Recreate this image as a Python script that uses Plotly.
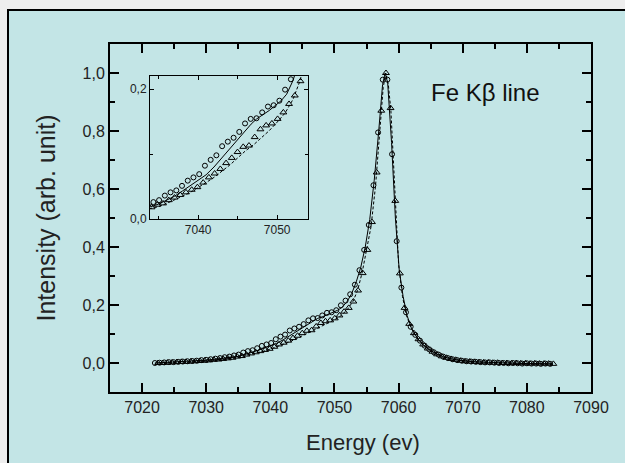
import plotly.graph_objects as go

# ---------------- data ----------------
circ_x = [7022.00, 7022.73, 7023.45, 7024.18, 7024.90, 7025.63, 7026.35, 7027.08, 7027.80, 7028.53,
          7029.25, 7029.98, 7030.70, 7031.43, 7032.15, 7032.88, 7033.60, 7034.33, 7035.05, 7035.78,
          7036.50, 7037.23, 7037.95, 7038.68, 7039.40, 7040.13, 7040.85, 7041.58, 7042.30, 7043.03,
          7043.75, 7044.48, 7045.20, 7045.93, 7046.65, 7047.38, 7048.10, 7048.83, 7049.55, 7050.28,
          7051.00, 7051.73, 7052.45, 7053.18, 7053.90, 7054.63, 7055.35, 7056.08, 7056.80, 7057.53,
          7058.25, 7058.98, 7059.70, 7060.43, 7061.15, 7061.88, 7062.60, 7063.33, 7064.05, 7064.78,
          7065.50, 7066.23, 7066.95, 7067.68, 7068.40, 7069.13, 7069.85, 7070.58, 7071.30, 7072.03,
          7072.75, 7073.48, 7074.20, 7074.93, 7075.65, 7076.38, 7077.10, 7077.83, 7078.55, 7079.28,
          7080.00, 7080.73, 7081.45, 7082.18, 7082.90, 7083.63]
circ_y = [0.000, 0.001, 0.002, 0.003, 0.003, 0.004, 0.005, 0.006, 0.007, 0.008,
          0.010, 0.011, 0.013, 0.015, 0.017, 0.020, 0.022, 0.026, 0.029, 0.036,
          0.041, 0.044, 0.051, 0.059, 0.064, 0.069, 0.082, 0.091, 0.098, 0.112,
          0.119, 0.125, 0.134, 0.147, 0.154, 0.155, 0.164, 0.173, 0.175, 0.182,
          0.199, 0.215, 0.237, 0.270, 0.320, 0.390, 0.476, 0.613, 0.795, 0.977,
          0.977, 0.720, 0.420, 0.260, 0.175, 0.125, 0.097, 0.077, 0.060, 0.047,
          0.037, 0.029, 0.022, 0.017, 0.013, 0.010, 0.008, 0.006, 0.005, 0.004,
          0.003, 0.002, 0.002, 0.001, 0.000, 0.000, -0.001, 0.000, -0.001, -0.002,
          -0.001, -0.002, -0.002, -0.003, -0.002, -0.003]

tri_x = [7022.50, 7023.23, 7023.95, 7024.68, 7025.40, 7026.13, 7026.85, 7027.58, 7028.30, 7029.03,
         7029.75, 7030.48, 7031.20, 7031.93, 7032.65, 7033.38, 7034.10, 7034.83, 7035.55, 7036.28,
         7037.00, 7037.73, 7038.45, 7039.18, 7039.90, 7040.63, 7041.35, 7042.08, 7042.80, 7043.53,
         7044.25, 7044.98, 7045.70, 7046.43, 7047.15, 7047.88, 7048.60, 7049.33, 7050.05, 7050.78,
         7051.50, 7052.23, 7052.95, 7053.68, 7054.40, 7055.13, 7055.85, 7056.58, 7057.30, 7058.03,
         7058.75, 7059.48, 7060.20, 7060.93, 7061.65, 7062.38, 7063.10, 7063.83, 7064.55, 7065.28,
         7066.00, 7066.73, 7067.45, 7068.18, 7068.90, 7069.63, 7070.35, 7071.08, 7071.80, 7072.53,
         7073.25, 7073.98, 7074.70, 7075.43, 7076.15, 7076.88, 7077.60, 7078.33, 7079.05, 7079.78,
         7080.50, 7081.23, 7081.95, 7082.68, 7083.40, 7084.13]
tri_y = [0.000, 0.000, 0.001, 0.002, 0.003, 0.004, 0.004, 0.005, 0.006, 0.007,
         0.008, 0.009, 0.011, 0.012, 0.014, 0.016, 0.018, 0.022, 0.024, 0.029,
         0.033, 0.037, 0.041, 0.045, 0.049, 0.056, 0.064, 0.070, 0.077, 0.086,
         0.094, 0.103, 0.111, 0.113, 0.126, 0.138, 0.144, 0.147, 0.154, 0.164,
         0.177, 0.190, 0.212, 0.250, 0.310, 0.390, 0.486, 0.657, 0.870, 1.000,
         0.879, 0.559, 0.309, 0.190, 0.135, 0.103, 0.082, 0.064, 0.050, 0.039,
         0.030, 0.023, 0.018, 0.014, 0.011, 0.008, 0.006, 0.005, 0.004, 0.003,
         0.002, 0.002, 0.001, 0.001, 0.000, 0.000, -0.001, 0.000, -0.001, -0.001,
         -0.002, -0.001, -0.002, -0.002, -0.002, -0.003]

fit_c_x = [7022.0, 7024.0, 7026.0, 7028.0, 7030.0, 7032.0, 7034.0, 7035.0, 7036.0, 7037.0,
           7038.0, 7039.0, 7040.0, 7041.0, 7042.0, 7043.0, 7044.0, 7045.0, 7046.0, 7046.7,
           7047.4, 7048.2, 7049.0, 7049.8, 7050.5, 7051.2, 7052.0, 7052.7, 7053.4, 7054.1,
           7054.8, 7055.5, 7056.2, 7056.9, 7057.5, 7057.9, 7058.3, 7058.9, 7059.5, 7060.1,
           7060.7, 7061.3, 7062.0, 7063.0, 7064.0, 7065.0, 7066.0, 7067.0, 7068.0, 7069.0,
           7070.0, 7072.0, 7074.0, 7076.0, 7080.0, 7084.0]
fit_c_y = [0.000, 0.002, 0.004, 0.007, 0.010, 0.015, 0.019, 0.023, 0.029, 0.035,
           0.043, 0.051, 0.059, 0.068, 0.080, 0.094, 0.108, 0.122, 0.135, 0.146,
           0.154, 0.160, 0.167, 0.175, 0.182, 0.192, 0.213, 0.240, 0.280, 0.330,
           0.400, 0.495, 0.630, 0.800, 0.960, 1.000, 0.965, 0.760, 0.500, 0.320,
           0.230, 0.165, 0.120, 0.083, 0.060, 0.043, 0.031, 0.022, 0.015, 0.011,
           0.008, 0.004, 0.002, 0.000, -0.002, -0.003]

fit_t_x = [7022.5, 7024.0, 7026.0, 7028.0, 7030.0, 7032.0, 7034.0, 7035.0, 7036.0, 7037.0,
           7038.0, 7039.0, 7040.0, 7041.0, 7042.0, 7043.0, 7044.0, 7045.0, 7046.0, 7047.0,
           7048.0, 7049.0, 7050.0, 7051.0, 7052.0, 7052.9, 7053.6, 7054.3, 7055.0, 7055.7,
           7056.4, 7057.1, 7057.6, 7058.0, 7058.4, 7058.8, 7059.4, 7060.0, 7060.6, 7061.2,
           7062.0, 7063.0, 7064.0, 7065.0, 7066.0, 7067.0, 7068.0, 7069.0, 7070.0, 7072.0,
           7074.0, 7076.0, 7080.0, 7084.1]
fit_t_y = [0.000, 0.001, 0.003, 0.005, 0.008, 0.011, 0.016, 0.019, 0.024, 0.029,
           0.035, 0.041, 0.048, 0.056, 0.064, 0.073, 0.083, 0.094, 0.105, 0.114,
           0.125, 0.136, 0.149, 0.163, 0.184, 0.213, 0.250, 0.310, 0.390, 0.470,
           0.610, 0.810, 0.950, 1.000, 0.960, 0.870, 0.590, 0.340, 0.230, 0.165,
           0.118, 0.083, 0.059, 0.042, 0.030, 0.021, 0.015, 0.011, 0.007, 0.004,
           0.002, 0.000, -0.002, -0.003]

# ticks
x_ticks = [7020, 7030, 7040, 7050, 7060, 7070, 7080, 7090]
x_minor = [7015, 7025, 7035, 7045, 7055, 7065, 7075, 7085]
y_ticks = [0.0, 0.2, 0.4, 0.6, 0.8, 1.0]
y_tick_labels = ["0,0", "0,2", "0,4", "0,6", "0,8", "1,0"]
y_minor = [-0.1, 0.1, 0.3, 0.5, 0.7, 0.9, 1.1]
inset_x_ticks = [7040, 7050]
inset_x_minor = [7035, 7045]
inset_y_ticks = [0.0, 0.2]
inset_y_tick_labels = ["0,0", "0,2"]
inset_y_minor = [0.1]

# ---------------- figure ----------------
W, H = 625, 463
ML, MR, MT, MB = 110, 34, 44, 71
PW, PH = W - ML - MR, H - MT - MB
CYAN = "#c3e5e6"
SLIDE = "#eeeeee"
FONT = "Liberation Sans, Arial, sans-serif"


def px_x(p):
    return (p - ML) / PW


def px_y(p):
    return (H - MB - p) / PH


fig = go.Figure()
for xa, ya in (("x", "y"), ("x2", "y2")):
    fig.add_trace(go.Scatter(x=fit_c_x, y=fit_c_y, mode="lines",
                             line=dict(color="black", width=1),
                             xaxis=xa, yaxis=ya, showlegend=False, hoverinfo="skip"))
    fig.add_trace(go.Scatter(x=fit_t_x, y=fit_t_y, mode="lines",
                             line=dict(color="black", width=1, dash="3px,2px"),
                             xaxis=xa, yaxis=ya, showlegend=False, hoverinfo="skip"))
    fig.add_trace(go.Scatter(x=circ_x, y=circ_y, mode="markers",
                             marker=dict(symbol="circle-open", size=5, color="black",
                                         line=dict(width=1, color="black")),
                             xaxis=xa, yaxis=ya, showlegend=False))
    fig.add_trace(go.Scatter(x=tri_x, y=tri_y, mode="markers",
                             marker=dict(symbol="triangle-up-open", size=6, color="black",
                                         line=dict(width=1, color="black")),
                             xaxis=xa, yaxis=ya, showlegend=False))

main_axis = dict(showgrid=False, zeroline=False, showline=True, linecolor="black",
                 linewidth=2, mirror="allticks", ticks="inside", ticklen=9,
                 tickwidth=1.5, tickcolor="black",
                 tickfont=dict(size=16, color="#222222", family=FONT))
inset_axis = dict(showgrid=False, zeroline=False, showline=True, linecolor="black",
                  linewidth=1, mirror="allticks", ticks="inside", ticklen=4,
                  tickwidth=1, tickcolor="black",
                  tickfont=dict(size=12, color="#222222", family=FONT))

# slide frame (gray strips at the left/top with a black border) - all inside the paper
slide_shapes = [
    dict(type="rect", xref="paper", yref="paper", layer="below",
         x0=px_x(0), x1=px_x(8), y0=px_y(H), y1=px_y(0),
         fillcolor=SLIDE, line=dict(width=0)),
    dict(type="rect", xref="paper", yref="paper", layer="below",
         x0=px_x(0), x1=px_x(W), y0=px_y(10), y1=px_y(0),
         fillcolor=SLIDE, line=dict(width=0)),
    dict(type="line", xref="paper", yref="paper", layer="below",
         x0=px_x(8), x1=px_x(8), y0=px_y(H), y1=px_y(9),
         line=dict(color="black", width=2)),
    dict(type="line", xref="paper", yref="paper", layer="below",
         x0=px_x(7), x1=px_x(W), y0=px_y(10), y1=px_y(10),
         line=dict(color="black", width=2)),
]

fig.update_layout(
    width=W, height=H,
    margin=dict(l=ML, r=MR, t=MT, b=MB, pad=0),
    paper_bgcolor=CYAN,
    plot_bgcolor=CYAN,
    font=dict(family=FONT, color="#222222"),
    showlegend=False,
    xaxis=dict(main_axis, range=[7015, 7090], tickmode="array", tickvals=x_ticks,
               minor=dict(tickmode="array", tickvals=x_minor, ticks="inside", ticklen=5,
                          tickwidth=1.5, tickcolor="black", showgrid=False),
               domain=[0, 1], anchor="y"),
    yaxis=dict(main_axis, range=[-0.1, 1.1], tickmode="array", tickvals=y_ticks,
               ticktext=y_tick_labels,
               minor=dict(tickmode="array", tickvals=y_minor, ticks="inside", ticklen=5,
                          tickwidth=1.5, tickcolor="black", showgrid=False),
               domain=[0, 1], anchor="x",
               title=dict(text="Intensity (arb. unit)", font=dict(size=25, color="#222222"),
                          standoff=20)),
    xaxis2=dict(inset_axis, range=[7033.9, 7053.9], tickmode="array", tickvals=inset_x_ticks,
                minor=dict(tickmode="array", tickvals=inset_x_minor, ticks="inside", ticklen=3,
                           tickwidth=1, tickcolor="black", showgrid=False),
                domain=[px_x(150), px_x(308)], anchor="y2"),
    yaxis2=dict(inset_axis, range=[0.0, 0.22], tickmode="array", tickvals=inset_y_ticks,
                ticktext=inset_y_tick_labels,
                minor=dict(tickmode="array", tickvals=inset_y_minor, ticks="inside", ticklen=3,
                           tickwidth=1, tickcolor="black", showgrid=False),
                domain=[px_y(219), px_y(76)], anchor="x2"),
    shapes=slide_shapes,
    annotations=[
        dict(text="Fe K\u03b2 line", xref="paper", yref="paper",
             x=px_x(485), y=px_y(92), xanchor="center", yanchor="middle",
             showarrow=False, font=dict(size=24, color="#111111", family=FONT)),
        dict(text="Energy (ev)", xref="paper", yref="paper",
             x=px_x(363), y=px_y(442), xanchor="center", yanchor="middle",
             showarrow=False, font=dict(size=22, color="#222222", family=FONT)),
    ],
)

page_style = (
    "var st=document.createElement('style');"
    "st.textContent='html,body{margin:0;padding:0;overflow:hidden;scrollbar-width:none;"
    "background:%s;}::-webkit-scrollbar{display:none;width:0;height:0;}';"
    "document.head.appendChild(st);" % SLIDE
)
fig.write_html("out.html", post_script=page_style, config={"displayModeBar": False})
